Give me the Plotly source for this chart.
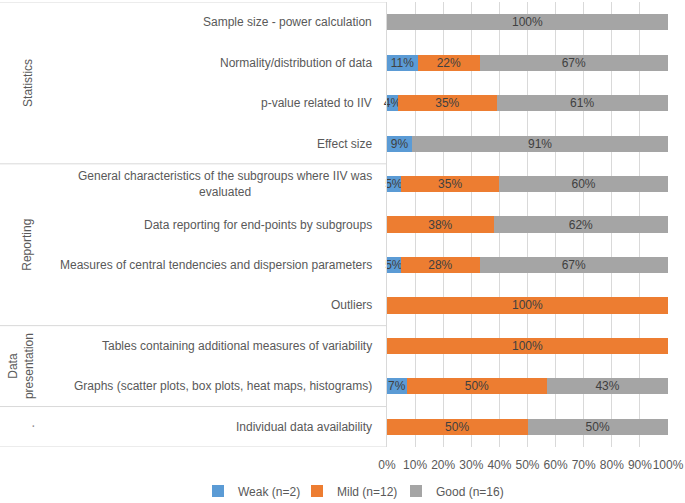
import plotly.graph_objects as go

categories = [
    "Sample size - power calculation",
    "Normality/distribution of data",
    "p-value related to IIV",
    "Effect size",
    "General characteristics of the subgroups where IIV was<br>evaluated",
    "Data reporting for end-points by subgroups",
    "Measures of central tendencies and dispersion parameters",
    "Outliers",
    "Tables containing additional measures of variability",
    "Graphs (scatter plots, box plots, heat maps, histograms)",
    "Individual data availability",
]
weak = [0, 11, 4, 9, 5, 0, 5, 0, 0, 7, 0]
mild = [0, 22, 35, 0, 35, 38, 28, 100, 100, 50, 50]
good = [100, 67, 61, 91, 60, 62, 67, 0, 0, 43, 50]
series_names = ["Weak (n=2)", "Mild (n=12)", "Good (n=16)"]
colors = ["#5B9BD5", "#ED7D31", "#A5A5A5"]
groups = [("Statistics", 0, 3), ("Reporting", 4, 7), ("Data<br>presentation", 8, 9), (".", 10, 10)]
group_label_px = [28, 27, 21, 30]
x_ticks = [0, 10, 20, 30, 40, 50, 60, 70, 80, 90, 100]

FONT = "Liberation Sans"
FS = 12
fig = go.Figure()
idx = list(range(len(categories)))
for name, vals, col in zip(series_names, [weak, mild, good], colors):
    fig.add_trace(go.Bar(
        y=idx, x=vals, name=name, orientation="h",
        marker=dict(color=col, line=dict(width=0)),
        text=[f"{v}%" if v > 0 else "" for v in vals],
        textposition="inside", insidetextanchor="middle", textangle=0,
        constraintext="none", cliponaxis=False,
        textfont=dict(family=FONT, size=FS, color="#404040"),
        hoverinfo="skip",
    ))
# invisible spacer legend entry so the last label is not clipped
fig.add_trace(go.Bar(y=[None], x=[None], name=" ", orientation="h",
                     marker=dict(color="rgba(0,0,0,0)", line=dict(width=0)),
                     hoverinfo="skip", showlegend=True))

W_PLOT = 281.0
H_PLOT = 445.0
def px_to_paper(px):
    return (px - 387.0) / W_PLOT

ann = []
for i, c in enumerate(categories):
    ann.append(dict(x=px_to_paper(374), y=i, xref="paper", yref="y", text=c,
                    showarrow=False, xanchor="right", yanchor="middle", align="center",
                    font=dict(family=FONT, size=FS, color="#595959")))
for (g, a, b), gx in zip(groups, group_label_px):
    ann.append(dict(x=px_to_paper(gx), y=(a + b) / 2, xref="paper", yref="y", text=g,
                    textangle=-90, showarrow=False, xanchor="center", yanchor="middle",
                    align="center", font=dict(family=FONT, size=FS, color="#595959")))

shapes = []
bounds = [-0.5, 3.5, 7.5, 9.5, 10.5]
for bnd in bounds:
    shapes.append(dict(type="line", xref="paper", yref="y", x0=px_to_paper(0), x1=0,
                       y0=bnd, y1=bnd, line=dict(color="#D9D9D9", width=1)))

fig.update_layout(
    width=685, height=503,
    margin=dict(l=387, r=17, t=2, b=56, autoexpand=False),
    barmode="stack", bargap=0.6,
    plot_bgcolor="white", paper_bgcolor="white",
    font=dict(family=FONT, size=FS, color="#595959"),
    xaxis=dict(range=[0, 100], tickvals=x_ticks, ticktext=[f"{t}%" for t in x_ticks],
               tickangle=0, automargin=False, ticklabelstandoff=9,
               showgrid=True, gridcolor="#D9D9D9", gridwidth=1, zeroline=False,
               showline=False, ticks="", tickfont=dict(family=FONT, size=FS, color="#595959")),
    yaxis=dict(range=[10.5, -0.5], showticklabels=False, showgrid=False, zeroline=False,
               showline=True, linecolor="#D9D9D9", ticks="", automargin=False),
    legend=dict(orientation="h", xref="paper", yref="paper",
                x=px_to_paper(198), xanchor="left", y=(447 - 491) / H_PLOT, yanchor="middle",
                font=dict(family=FONT, size=FS, color="#595959"), traceorder="normal",
                itemwidth=30, entrywidth=54, entrywidthmode="pixels"),
    annotations=ann, shapes=shapes,
)
fig.write_html("out.html", post_script="document.body.style.margin='0';",
               config={"displayModeBar": False})
